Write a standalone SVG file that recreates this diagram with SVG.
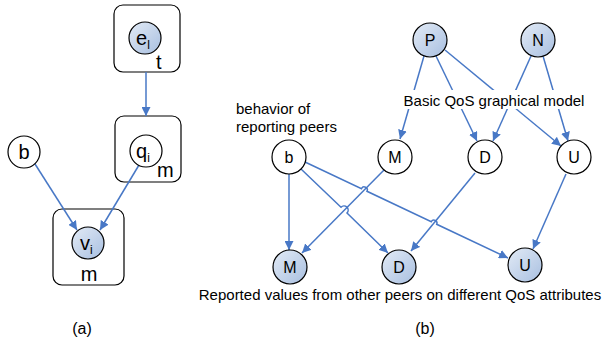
<svg xmlns="http://www.w3.org/2000/svg" width="602" height="345" viewBox="0 0 602 345">
  <defs>
    <linearGradient id="fillBlue" x1="0" y1="0" x2="1" y2="1">
      <stop offset="0" stop-color="#e3ebf6"/>
      <stop offset="1" stop-color="#a8bfe0"/>
    </linearGradient>
    <marker id="arrow" viewBox="0 0 10 10" refX="10" refY="5" markerWidth="9" markerHeight="9" markerUnits="userSpaceOnUse" orient="auto">
      <path d="M0,0 L10,5 L0,10 Z" fill="#4878c6"/>
    </marker>
  </defs>
  <style>
    .plate { fill: #ffffff; stroke: #000000; stroke-width: 1.2; }
    .obs { fill: url(#fillBlue); stroke: #000000; stroke-width: 1.2; }
    .lat { fill: #ffffff; stroke: #000000; stroke-width: 1.2; }
    .edge { fill: none; stroke: #4878c6; stroke-width: 1.5; marker-end: url(#arrow); }
    text { font-family: "Liberation Sans", Arial, sans-serif; fill: #000000; }
    .big { font-size: 20px; }
    .nl { font-size: 16px; text-anchor: middle; }
    .lbl { font-size: 15px; }
    .cap { font-size: 16px; text-anchor: middle; }
  </style>

  <rect width="602" height="345" fill="#ffffff"/>

  <!-- (a) plate model -->
  <g id="plate-t">
    <rect class="plate" x="114" y="5" width="66" height="67" rx="9"/>
  </g>
  <g id="plate-q">
    <rect class="plate" x="115" y="116" width="66" height="66" rx="9"/>
  </g>
  <g id="plate-v">
    <rect class="plate" x="53" y="209" width="71" height="76" rx="9"/>
  </g>

  <g id="a-edges">
    <path class="edge" d="M146,72 L146,116"/>
    <path class="edge" d="M35,164 L77,230"/>
    <path class="edge" d="M139,165 L100,230"/>
  </g>

  <g id="node-el">
    <circle class="obs" cx="145" cy="38" r="16"/>
    <text class="big" x="136" y="45">e<tspan font-size="12" dy="4">l</tspan></text>
    <text class="big" x="156" y="69">t</text>
  </g>
  <g id="node-qi">
    <circle class="lat" cx="146" cy="151" r="16"/>
    <text class="big" x="136" y="158">q<tspan font-size="12" dy="4">i</tspan></text>
    <text class="big" x="157" y="177">m</text>
  </g>
  <g id="node-b-a">
    <circle class="lat" cx="24" cy="152" r="16"/>
    <text class="big" x="24" y="159" text-anchor="middle">b</text>
  </g>
  <g id="node-vi">
    <circle class="obs" cx="88" cy="243" r="16"/>
    <text class="big" x="80" y="250">v<tspan font-size="12" dy="4">i</tspan></text>
    <text class="big" x="89" y="281" text-anchor="middle">m</text>
  </g>
  <text class="cap" x="82" y="334">(a)</text>

  <!-- (b) QoS model -->
  <g id="b-edges">
    <path class="edge" d="M424,56 L400,139"/>
    <path class="edge" d="M436,56 L477,141"/>
    <path class="edge" d="M445,50 L561,146"/>
    <path class="edge" d="M531,56 L493,141"/>
    <path class="edge" d="M543,56 L568,141"/>
    <path class="edge" d="M289,174 L289,250"/>
    <path class="edge" d="M301,169 L341,207.3 A3,3 0 0 1 347,213 L388,253"/>
    <path class="edge" d="M305,162 L361.5,188.7 A3,3 0 0 1 367,191.3 L431.3,221.7 A3,3 0 0 1 436.7,224.3 L508,258"/>
    <path class="edge" d="M384,170 L302,253"/>
    <path class="edge" d="M475,173 L411,251"/>
    <path class="edge" d="M566,174 L533,249"/>
  </g>

  <rect x="402" y="90" width="185" height="19" fill="#ffffff"/>
  <text class="lbl" x="494" y="106" text-anchor="middle">Basic QoS graphical model</text>
  <text class="lbl" x="236" y="114">behavior of</text>
  <text class="lbl" x="236" y="132">reporting peers</text>

  <g id="node-P">
    <circle class="obs" cx="430" cy="40" r="17"/>
    <text class="nl" x="430" y="46">P</text>
  </g>
  <g id="node-N">
    <circle class="obs" cx="538" cy="40" r="17"/>
    <text class="nl" x="538" y="46">N</text>
  </g>
  <g id="node-b">
    <circle class="lat" cx="289" cy="157" r="17"/>
    <text class="nl" x="289" y="163">b</text>
  </g>
  <g id="node-M">
    <circle class="lat" cx="395" cy="157" r="17"/>
    <text class="nl" x="395" y="163">M</text>
  </g>
  <g id="node-D">
    <circle class="lat" cx="485" cy="157" r="17"/>
    <text class="nl" x="485" y="163">D</text>
  </g>
  <g id="node-U">
    <circle class="lat" cx="574" cy="157" r="17"/>
    <text class="nl" x="574" y="163">U</text>
  </g>
  <g id="node-M-rep">
    <circle class="obs" cx="290" cy="267" r="17"/>
    <text class="nl" x="290" y="273">M</text>
  </g>
  <g id="node-D-rep">
    <circle class="obs" cx="399" cy="267" r="17"/>
    <text class="nl" x="399" y="273">D</text>
  </g>
  <g id="node-U-rep">
    <circle class="obs" cx="525" cy="265" r="17"/>
    <text class="nl" x="525" y="271">U</text>
  </g>

  <text class="lbl" x="400" y="300" text-anchor="middle">Reported values from other peers on different QoS attributes</text>
  <text class="cap" x="425" y="334">(b)</text>
</svg>
